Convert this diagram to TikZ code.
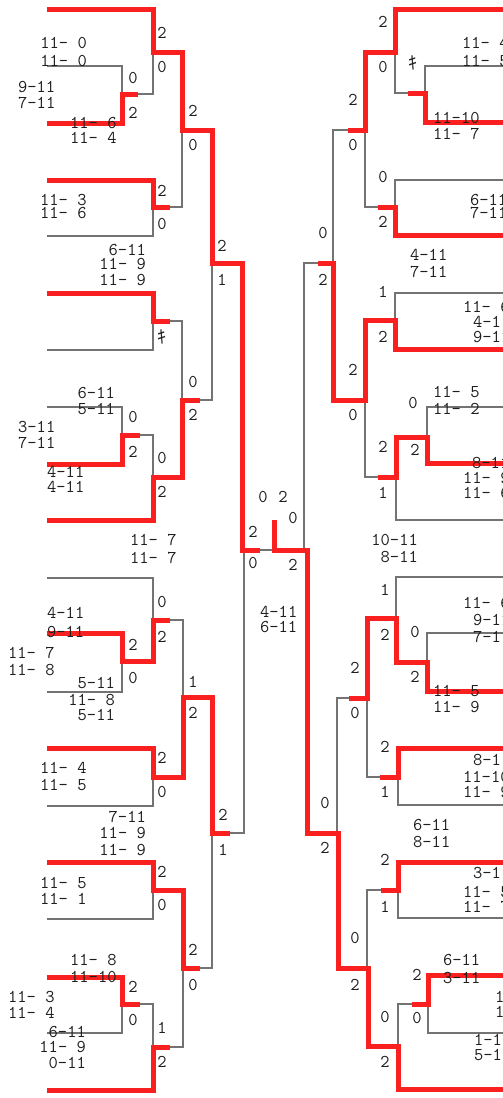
\documentclass[tikz,border=0pt]{standalone}
\usepackage{fontspec}
\newfontfamily\jpfont{Noto Sans CJK JP}
\definecolor{rd}{RGB}{250,32,32}
\definecolor{gy}{RGB}{115,115,115}
\definecolor{tx}{RGB}{30,30,30}
\newcounter{lc}
\newcommand\lb[4][center]{\stepcounter{lc}\node[sc,anchor=#1] (l\arabic{lc}) at (#2,#3) {#4};}
\tikzset{
  win/.style={draw=rd,line width=5pt,line join=miter},
  lose/.style={draw=gy,line width=1.2pt},
  sc/.style={font=\ttfamily\fontsize{18}{20}\selectfont,inner sep=0pt,text=tx}
}
\begin{document}
\begin{tikzpicture}[x=1pt,y=-1pt]
\useasboundingbox (0,0) rectangle (503,1098);
\fill[white] (0,0) rectangle (503,1098);
\clip (0,0) rectangle (503,1098);
% ---------- gray (losing) lines ----------
\draw[lose] (138,94)--(153,94)--(153,52);
\draw[lose] (47,66)--(122,66)--(122,94);
\draw[lose] (170,207)--(182,207)--(182,130);
\draw[lose] (47,236)--(153,236)--(153,207);
\draw[lose] (170,321)--(182,321)--(182,400);
\draw[lose] (47,350)--(153,350)--(153,321);
\draw[lose] (47,407)--(122,407)--(122,435);
\draw[lose] (140,435)--(153,435)--(153,477);
\draw[lose] (200,400)--(212,400)--(212,263);
\draw[lose] (47,578)--(153,578)--(153,620);
\draw[lose] (170,620)--(183,620)--(183,697);
\draw[lose] (47,692)--(122,692)--(122,661);
\draw[lose] (230,833)--(244,833)--(244,550);
\draw[lose] (47,806)--(153,806)--(153,777);
\draw[lose] (200,968)--(212,968)--(212,833);
\draw[lose] (47,919)--(153,919)--(153,890);
\draw[lose] (140,1004)--(153,1004)--(153,1047);
\draw[lose] (47,1033)--(122,1033)--(122,1004);
\draw[lose] (170,1047)--(183,1047)--(183,968);
\draw[lose] (258,550)--(274,550);
\draw[lose] (348,130)--(333,130)--(333,263);
\draw[lose] (510,66)--(425,66)--(425,93);
\draw[lose] (408,93)--(395,93)--(395,52);
\draw[lose] (510,180)--(395,180)--(395,207);
\draw[lose] (378,207)--(365,207)--(365,130);
\draw[lose] (510,293)--(395,293)--(395,320);
\draw[lose] (318,263)--(304,263)--(304,550);
\draw[lose] (510,407)--(427,407)--(427,437);
\draw[lose] (378,477)--(365,477)--(365,400);
\draw[lose] (510,520)--(396,520)--(396,477);
\draw[lose] (510,577)--(396,577)--(396,618);
\draw[lose] (510,633)--(427,633)--(427,662);
\draw[lose] (349,698)--(337,698)--(337,833);
\draw[lose] (380,777)--(367,777)--(367,698);
\draw[lose] (510,805)--(398,805)--(398,777);
\draw[lose] (381,890)--(367,890)--(367,968);
\draw[lose] (510,918)--(398,918)--(398,890);
\draw[lose] (412,1004)--(398,1004)--(398,1046);
\draw[lose] (510,1033)--(428,1033)--(428,1004);
% ---------- red (winning) lines ----------
\draw[win] (47,9)--(153,9)--(153,52)--(182,52)--(182,130)--(212,130)--(212,263)--(242,263)--(242,550)--(260,550);
\draw[win] (47,123)--(122,123)--(122,94)--(138,94);
\draw[win] (47,180)--(153,180)--(153,207)--(170,207);
\draw[win] (47,293)--(153,293)--(153,321)--(170,321);
\draw[win] (47,464)--(122,464)--(122,435)--(140,435);
\draw[win] (47,520)--(153,520)--(153,477)--(182,477)--(182,400)--(200,400);
\draw[win] (47,633)--(122,633)--(122,661)--(153,661)--(153,620)--(170,620);
\draw[win] (47,748)--(153,748)--(153,777)--(183,777)--(183,697)--(212,697)--(212,833)--(230,833);
\draw[win] (47,862)--(153,862)--(153,890)--(183,890)--(183,968)--(200,968);
\draw[win] (47,977)--(122,977)--(122,1004)--(140,1004);
\draw[win] (47,1090)--(153,1090)--(153,1047)--(170,1047);
\draw[win] (274,520)--(274,550)--(307,550)--(307,833)--(338,833)--(338,968)--(368,968)--(368,1046)--(398,1046)--(398,1089)--(510,1089);
\draw[win] (510,9)--(395,9)--(395,52)--(365,52)--(365,130)--(348,130);
\draw[win] (510,122)--(425,122)--(425,93)--(408,93);
\draw[win] (510,235)--(395,235)--(395,207)--(378,207);
\draw[win] (510,349)--(395,349)--(395,320)--(365,320)--(365,400)--(333,400)--(333,263)--(318,263);
\draw[win] (510,463)--(427,463)--(427,437)--(396,437)--(396,477)--(378,477);
\draw[win] (510,691)--(427,691)--(427,662)--(396,662)--(396,618)--(367,618)--(367,698)--(349,698);
\draw[win] (510,748)--(398,748)--(398,777)--(380,777);
\draw[win] (510,862)--(398,862)--(398,890)--(381,890);
\draw[win] (510,975)--(428,975)--(428,1004)--(412,1004);
% ---------- match results ----------
\lb{162}{33}{2}\lb{162}{67}{0}
\lb{133}{78}{0}\lb{133}{113}{2}
\lb{193}{111}{2}\lb{193}{145}{0}
\lb{162}{191}{2}\lb{162}{224}{0}
\lb{222}{246}{2}\lb{222}{280}{1}
\lb{162}{337}{\jpfont ｷ}
\lb{193}{382}{0}\lb{193}{415}{2}
\lb{133}{417}{0}\lb{133}{452}{2}
\lb{162}{458}{0}\lb{162}{492}{2}
\lb{162}{602}{0}\lb{162}{637}{2}
\lb{133}{645}{2}\lb{133}{678}{0}
\lb{193}{682}{1}\lb{193}{713}{2}
\lb{162}{758}{2}\lb{162}{792}{0}
\lb{223}{815}{2}\lb{223}{850}{1}
\lb{162}{872}{2}\lb{162}{905}{0}
\lb{193}{950}{2}\lb{193}{985}{0}
\lb{133}{987}{2}\lb{133}{1020}{0}
\lb{162}{1028}{1}\lb{162}{1062}{2}
\lb{263}{497}{0}\lb{283}{497}{2}
\lb{293}{518}{0}\lb{253}{532}{2}
\lb{253}{563}{0}\lb{293}{565}{2}
\lb{383}{22}{2}\lb{383}{67}{0}
\lb{413}{63}{\jpfont ｷ}
\lb{353}{100}{2}\lb{353}{145}{0}
\lb{383}{177}{0}\lb{383}{222}{2}
\lb{323}{233}{0}\lb{323}{280}{2}
\lb{383}{292}{1}\lb{383}{337}{2}
\lb{353}{370}{2}\lb{353}{415}{0}
\lb{413}{403}{0}\lb{415}{450}{2}
\lb{383}{447}{2}\lb{383}{493}{1}
\lb{385}{590}{1}\lb{385}{635}{2}
\lb{415}{632}{0}\lb{415}{677}{2}
\lb{355}{668}{2}\lb{355}{713}{0}
\lb{385}{747}{2}\lb{385}{792}{1}
\lb{325}{803}{0}\lb{325}{848}{2}
\lb{385}{860}{2}\lb{385}{907}{1}
\lb{355}{938}{0}\lb{355}{985}{2}
\lb{417}{975}{2}\lb{417}{1018}{0}
\lb{385}{1017}{0}\lb{385}{1062}{2}
% ---------- game scores, left ----------
\lb[east]{87}{43}{11- 0}\lb[east]{87}{61}{11- 0}
\lb[west]{18}{87}{9-11}\lb[west]{18}{103}{7-11}
\lb[west]{70}{123}{11- 6}\lb[west]{70}{138}{11- 4}
\lb[west]{40}{200}{11- 3}\lb[west]{40}{213}{11- 6}
\lb[east]{146}{250}{6-11}\lb[east]{146}{264}{11- 9}\lb[east]{146}{280}{11- 9}
\lb[east]{115}{393}{6-11}\lb[east]{115}{409}{5-11}
\lb[west]{18}{427}{3-11}\lb[west]{18}{443}{7-11}
\lb[west]{47}{472}{4-11}\lb[west]{47}{487}{4-11}
\lb[west]{130}{540}{11- 7}\lb[west]{130}{558}{11- 7}
\lb[west]{47}{613}{4-11}\lb[west]{47}{632}{9-11}
\lb[west]{8}{653}{11- 7}\lb[west]{8}{670}{11- 8}
\lb[east]{115}{683}{5-11}\lb[east]{115}{700}{11- 8}\lb[east]{115}{715}{5-11}
\lb[west]{40}{768}{11- 4}\lb[west]{40}{785}{11- 5}
\lb[east]{146}{817}{7-11}\lb[east]{146}{833}{11- 9}\lb[east]{146}{850}{11- 9}
\lb[west]{40}{883}{11- 5}\lb[west]{40}{899}{11- 1}
\lb[west]{70}{960}{11- 8}\lb[west]{70}{977}{11-10}
\lb[west]{8}{997}{11- 3}\lb[west]{8}{1013}{11- 4}
\lb[east]{86}{1032}{6-11}\lb[east]{86}{1047}{11- 9}\lb[east]{86}{1063}{0-11}
\lb[west]{260}{612}{4-11}\lb[west]{260}{627}{6-11}
% ---------- game scores, right ----------
\lb[west]{462}{43}{11- 4}\lb[west]{462}{61}{11- 5}
\lb[west]{433}{118}{11-10}\lb[west]{433}{134}{11- 7}
\lb[west]{470}{200}{6-11}\lb[west]{470}{213}{7-11}
\lb[west]{410}{255}{4-11}\lb[west]{410}{272}{7-11}
\lb[west]{463}{307}{11- 6}\lb[west]{473}{322}{4-11}\lb[west]{473}{337}{9-11}
\lb[west]{433}{392}{11- 5}\lb[west]{433}{409}{11- 2}
\lb[west]{472}{463}{8-11}\lb[west]{463}{478}{11- 9}\lb[west]{463}{493}{11- 6}
\lb[east]{418}{540}{10-11}\lb[east]{418}{557}{8-11}
\lb[west]{463}{603}{11- 6}\lb[west]{473}{620}{9-11}\lb[west]{473}{637}{7-11}
\lb[west]{433}{691}{11- 5}\lb[west]{433}{707}{11- 9}
\lb[west]{473}{760}{8-11}\lb[west]{463}{777}{11-10}\lb[west]{463}{792}{11- 9}
\lb[west]{413}{825}{6-11}\lb[west]{413}{842}{8-11}
\lb[west]{473}{873}{3-11}\lb[west]{463}{892}{11- 5}\lb[west]{463}{907}{11- 7}
\lb[west]{443}{960}{6-11}\lb[west]{443}{978}{3-11}
\lb[west]{495}{997}{11- 3}\lb[west]{495}{1012}{11- 4}
\lb[west]{474}{1040}{1-11}\lb[west]{474}{1055}{5-11}
\end{tikzpicture}
\end{document}
